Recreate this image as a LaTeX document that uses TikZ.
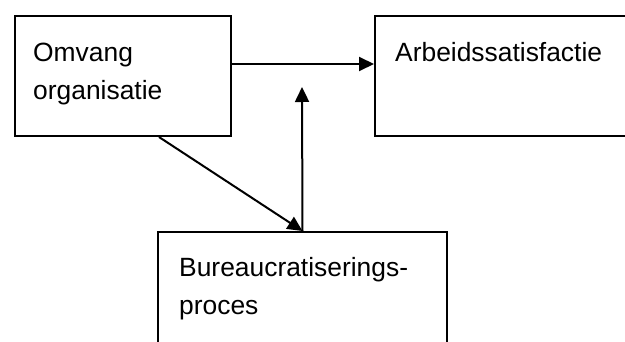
\documentclass[tikz,border=0pt]{standalone}
\usepackage{fontspec}
\setmainfont{Liberation Sans}
\usetikzlibrary{arrows.meta}

\tikzset{
  box/.style={draw, line width=2pt, inner sep=0pt, anchor=north west},
  txt/.style={anchor=north west, inner sep=0pt, align=left,
              font=\fontsize{26.4pt}{38pt}\selectfont},
  arr/.style={line width=2pt, -{Triangle[length=15pt, width=14pt]}}
}

\begin{document}
\begin{tikzpicture}[x=1pt, y=-1pt, line join=miter]
                % picture frame (boxes run past the edge)
                \clip (0,0) rectangle (625,342);

                % Boxes
                \node[box, minimum width=216pt, minimum height=120pt] (omvang) at (14,15) {};
                \node[box, minimum width=280pt, minimum height=120pt] (arbeid) at (374,15) {};
                \node[box, minimum width=289pt, minimum height=140pt] (bureau) at (157,231) {};

                % Labels
                \node[txt] (omvangtxt) at (33,43) {Omvang\\organisatie};
                \node[txt] (arbeidtxt) at (395,42) {Arbeidssatisfactie};
                \node[txt] (bureautxt) at (179,257) {Bureaucratiserings-\\proces};

                % Arrows
                \coordinate (pijlkop) at (302,87);
                \draw[arr] ([yshift=12pt]omvang.east) -- ([yshift=12pt]arbeid.west);
                \draw[arr] ([xshift=36pt]omvang.south) -- (bureau.north);
                \draw[arr] (bureau.north) -- (pijlkop);

            \end{tikzpicture}
\end{document}
